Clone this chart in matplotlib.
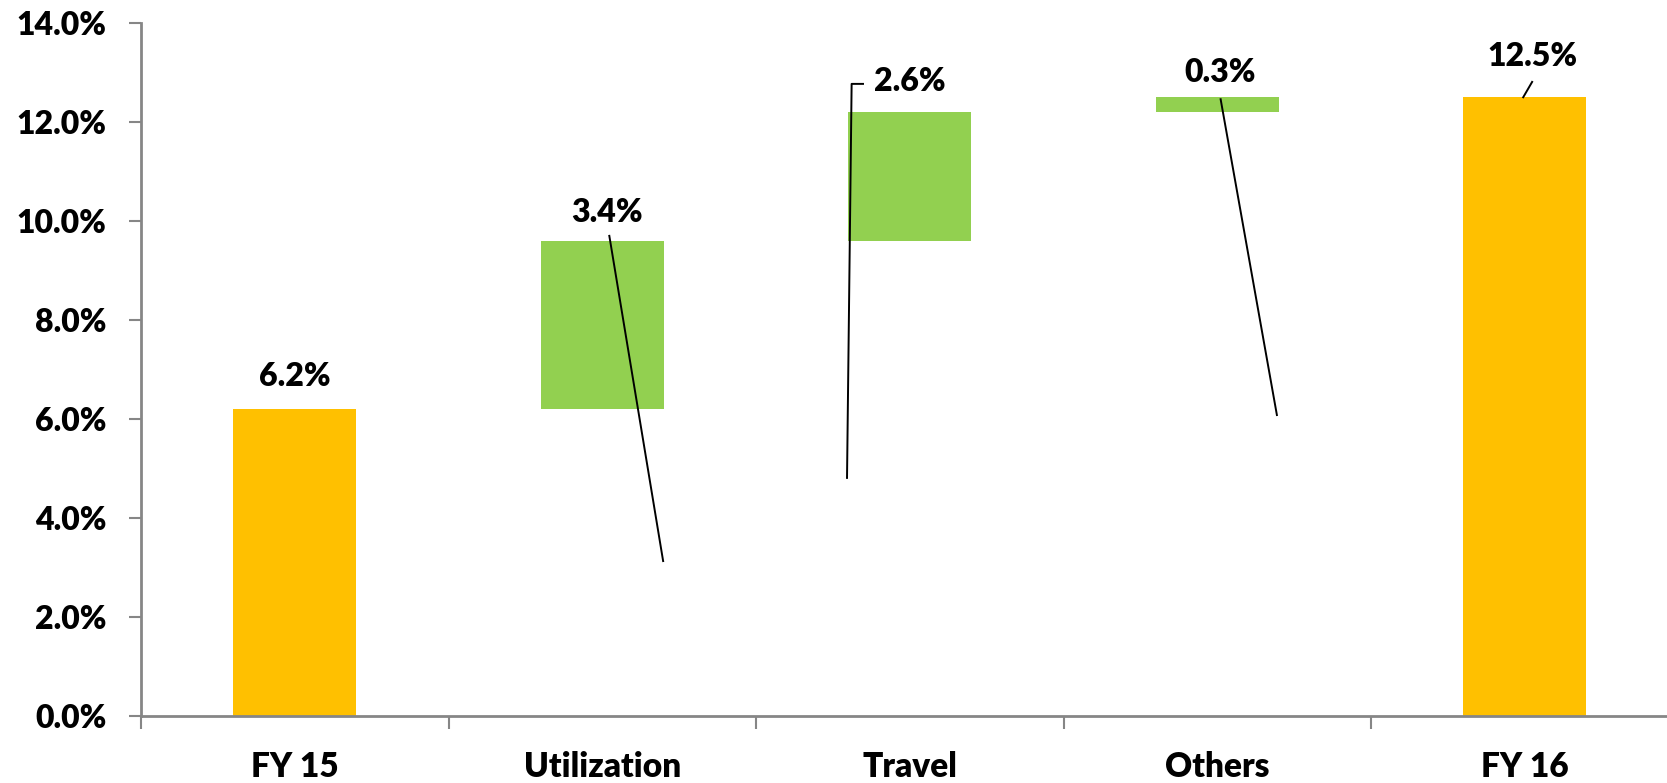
import matplotlib
matplotlib.use("Agg")
import matplotlib.pyplot as plt
import numpy as np

categories = ["FY 15", "Utilization", "Travel", "Others", "FY 16"]
values = [6.2, 3.4, 2.6, 0.3, 12.5]
is_total = [True, False, False, False, True]
y_ticks = [0, 2, 4, 6, 8, 10, 12, 14]

ORANGE = "#FFC000"
GREEN = "#92D050"
GRAY = "#868686"

plt.rcParams['font.family'] = ['Lato', 'DejaVu Sans']
WEIGHT = 'heavy'

fig = plt.figure(figsize=(16.67, 7.83), dpi=100)
# axes spans slightly past the right figure edge like the reference
left = 141 / 1667
right = 1678.5 / 1667
bottom = 1 - 716 / 783
top = 1 - 23 / 783
ax = fig.add_axes([left, bottom, right - left, top - bottom])

x = np.arange(len(categories))
bottoms = []
heights = []
colors = []
running = 0.0
for v, tot in zip(values, is_total):
    if tot:
        bottoms.append(0.0)
        heights.append(v)
        colors.append(ORANGE)
        running = v
    else:
        bottoms.append(running)
        heights.append(v)
        colors.append(GREEN)
        running += v

ax.bar(x, heights, bottom=bottoms, width=0.4, color=colors, zorder=2)

ax.set_xlim(-0.5, len(categories) - 0.5)
ax.set_ylim(0, 14)
ax.set_yticks(y_ticks)
ax.set_yticklabels([f"{t:.1f}%" for t in y_ticks], fontsize=23, fontweight=WEIGHT)
ax.set_xticks(x)
ax.set_xticklabels(categories, fontsize=24, fontweight=WEIGHT)
ax.set_xticks(np.arange(len(categories) + 1) - 0.5, minor=True)

for s in ["top", "right"]:
    ax.spines[s].set_visible(False)
for s in ["left", "bottom"]:
    ax.spines[s].set_color(GRAY)
    ax.spines[s].set_linewidth(2)

ax.tick_params(axis='y', which='major', length=9, width=1.5, color=GRAY, pad=16, direction='out')
ax.tick_params(axis='x', which='major', length=0, pad=25)
ax.tick_params(axis='x', which='minor', length=9, width=1.5, color=GRAY, direction='out')

# data labels (label centre in data units) and their leader lines
label_pos = [(0.0, 6.85), (1.015, 10.18), (2.0, 12.81), (3.01, 13.0), (4.024, 13.33)]
leaders = [
    None,
    [(1.023, 9.70), (1.198, 3.13)],
    [(1.848, 12.77), (1.811, 12.77), (1.796, 4.81)],
    [(3.011, 12.46), (3.194, 6.08)],
    [(4.024, 12.81), (3.995, 12.50)],
]

for i, v in enumerate(values):
    lx, ly = label_pos[i]
    ax.text(lx, ly, f"{v:.1f}%", ha='center', va='center', fontsize=23,
            fontweight=WEIGHT, zorder=4)
    if leaders[i] is not None:
        pts = np.array(leaders[i])
        ax.plot(pts[:, 0], pts[:, 1], color='black', lw=1.4, zorder=3,
                clip_on=False)

fig.savefig("out.png", dpi=100)
